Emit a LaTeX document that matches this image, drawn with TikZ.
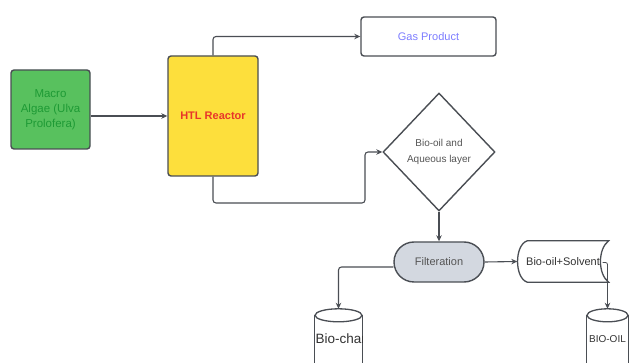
\documentclass[tikz,border=0pt]{standalone}
\usepackage{fontspec}
\setmainfont{Liberation Sans}
\usetikzlibrary{shapes.geometric,arrows.meta,calc}
\definecolor{linec}{HTML}{4A4E54}
\definecolor{algaefill}{HTML}{58C15E}
\definecolor{algaetext}{HTML}{1E9A35}
\definecolor{htlfill}{HTML}{FDDF3C}
\definecolor{htltext}{HTML}{E8352A}
\definecolor{gastext}{HTML}{7D7DFF}
\definecolor{greytext}{HTML}{555555}
\definecolor{filtfill}{HTML}{D3D8E0}
\begin{document}
\begin{tikzpicture}[x=1pt,y=-1pt,
  box/.style={draw=linec, line width=1.4pt, rounded corners=3pt, align=center, inner sep=0pt},
  conn/.style={draw=linec, line width=1.1pt, -{Stealth[length=6pt,width=5.5pt]}},
  cyl/.style={draw=linec, line width=1.3pt},
  lbl/.style={font=\fontsize{11}{15}\selectfont}
]
\useasboundingbox (0,0) rectangle (630,363);
\fill[white] (0,0) rectangle (630,363);

\node[box, fill=algaefill, text=algaetext, minimum width=79pt, minimum height=79pt, font=\fontsize{11.5}{15}\selectfont] (algae) at (50.5,109.5) {Macro\\Algae (Ulva\\Prolofera)};
\node[box, fill=htlfill, text=htltext, minimum width=90pt, minimum height=120pt, font=\fontsize{11}{13}\selectfont\bfseries] (htl) at (213,116) {HTL Reactor};
\node[box, lbl, fill=white, text=gastext, minimum width=135pt, minimum height=39pt] (gas) at (428.5,36.5) {Gas Product};
\node[draw=linec, line width=1.4pt, diamond, inner sep=0pt, minimum width=112pt, minimum height=118pt, align=center, text=greytext, font=\fontsize{10}{16}\selectfont] (dia) at (439,152) {Bio-oil and\\Aqueous layer};
\node[draw=linec, line width=1.4pt, fill=filtfill, rounded corners=20pt, minimum width=90pt, minimum height=40pt, inner sep=0pt, text=greytext, lbl] (filt) at (439,262) {Filteration};
\node[minimum width=91pt, minimum height=41pt, inner sep=0pt, lbl, text=black!80] (bos) at (563,261.5) {Bio-oil+Solvent};
\draw[cyl] ($(bos.north west)+(10,0)$) -- (bos.north east)
  .. controls ($(bos.north east)+(-11,8)$) and ($(bos.south east)+(-11,-8)$) .. (bos.south east)
  -- ($(bos.south west)+(10,0)$)
  .. controls ($(bos.south west)+(-3,-4)$) and ($(bos.north west)+(-3,4)$) .. cycle;

\node[minimum width=47pt, minimum height=54pt, inner sep=0pt] (biochar) at (338.5,336) {};
\draw[cyl] ($(biochar.north west)+(0,6.5)$) -- (biochar.south west);
\draw[cyl] ($(biochar.north east)+(0,6.5)$) -- (biochar.south east);
\draw[cyl] ($(biochar.north)+(0,6.5)$) ellipse [x radius=23.5, y radius=6.5];
\begin{scope}
\clip (biochar.north west) rectangle (biochar.south east);
\node[anchor=west, inner sep=0pt, font=\fontsize{13.5}{15}\selectfont, text=black!80] (biochartext) at ($(biochar.west)+(0.5,3)$) {Bio-char};
\end{scope}

\node[minimum width=41pt, minimum height=54pt, inner sep=0pt] (biooil) at (607.5,336) {};
\draw[cyl] ($(biooil.north west)+(0,6.5)$) -- (biooil.south west);
\draw[cyl] ($(biooil.north east)+(0,6.5)$) -- (biooil.south east);
\draw[cyl] ($(biooil.north)+(0,6.5)$) ellipse [x radius=20.5, y radius=6.5];
\node[inner sep=0pt, font=\fontsize{10}{12}\selectfont, text=black!80] (biooiltext) at ($(biooil.center)+(0,3)$) {BIO-OIL};

\coordinate (k1) at (365,203);
\draw[conn] (algae.east |- htl.west) -- (htl.west);
\draw[conn, rounded corners=3pt] (htl.north) |- (gas.west);
\draw[conn, rounded corners=3pt] (htl.south) |- (k1) |- (dia.west);
\draw[conn] (dia.south) -- (filt.north);
\draw[conn] (filt.east) -- (bos.west);
\draw[conn, rounded corners=3pt] ($(filt.west)+(0,5)$) -| (biochar.north);
\draw[conn, line width=0.8pt, rounded corners=2pt] ($(bos.east)+(-6,1)$) -| (biooil.north);
\end{tikzpicture}
\end{document}
